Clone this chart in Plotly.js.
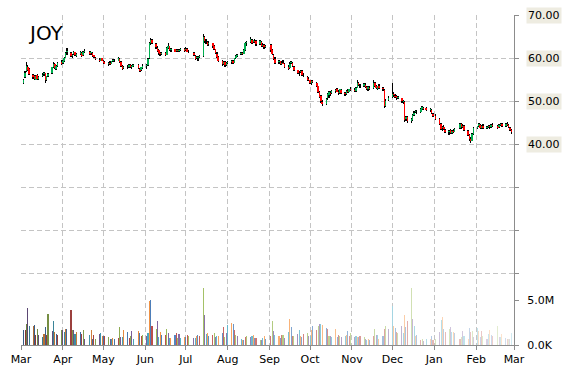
<!DOCTYPE html>
<html><head><meta charset="utf-8">
<script src="https://cdn.plot.ly/plotly-3.0.1.min.js"></script>
<style>html,body{margin:0;padding:0;background:#fff}#chart{width:570px;height:370px}</style>
</head><body><div id="chart"></div>
<script>
const ticker = 'JOY';
const dates = [
'2014-03-03','2014-03-04','2014-03-05','2014-03-06','2014-03-07','2014-03-10','2014-03-11','2014-03-12','2014-03-13','2014-03-14','2014-03-17','2014-03-18','2014-03-19','2014-03-20','2014-03-21','2014-03-24','2014-03-25','2014-03-26','2014-03-27','2014-03-28','2014-03-31',
'2014-04-01','2014-04-02','2014-04-03','2014-04-04','2014-04-07','2014-04-08','2014-04-09','2014-04-10','2014-04-11','2014-04-14','2014-04-15','2014-04-16','2014-04-17','2014-04-21','2014-04-22','2014-04-23','2014-04-24','2014-04-25','2014-04-28','2014-04-29','2014-04-30',
'2014-05-01','2014-05-02','2014-05-05','2014-05-06','2014-05-07','2014-05-08','2014-05-09','2014-05-12','2014-05-13','2014-05-14','2014-05-15','2014-05-16','2014-05-19','2014-05-20','2014-05-21','2014-05-22','2014-05-23','2014-05-27','2014-05-28','2014-05-29','2014-05-30',
'2014-06-02','2014-06-03','2014-06-04','2014-06-05','2014-06-06','2014-06-09','2014-06-10','2014-06-11','2014-06-12','2014-06-13','2014-06-16','2014-06-17','2014-06-18','2014-06-19','2014-06-20','2014-06-23','2014-06-24','2014-06-25','2014-06-26','2014-06-27','2014-06-30',
'2014-07-01','2014-07-02','2014-07-03','2014-07-07','2014-07-08','2014-07-09','2014-07-10','2014-07-11','2014-07-14','2014-07-15','2014-07-16','2014-07-17','2014-07-18','2014-07-21','2014-07-22','2014-07-23','2014-07-24','2014-07-25','2014-07-28','2014-07-29','2014-07-30','2014-07-31',
'2014-08-01','2014-08-04','2014-08-05','2014-08-06','2014-08-07','2014-08-08','2014-08-11','2014-08-12','2014-08-13','2014-08-14','2014-08-15','2014-08-18','2014-08-19','2014-08-20','2014-08-21','2014-08-22','2014-08-25','2014-08-26','2014-08-27','2014-08-28','2014-08-29',
'2014-09-02','2014-09-03','2014-09-04','2014-09-05','2014-09-08','2014-09-09','2014-09-10','2014-09-11','2014-09-12','2014-09-15','2014-09-16','2014-09-17','2014-09-18','2014-09-19','2014-09-22','2014-09-23','2014-09-24','2014-09-25','2014-09-26','2014-09-29','2014-09-30',
'2014-10-01','2014-10-02','2014-10-03','2014-10-06','2014-10-07','2014-10-08','2014-10-09','2014-10-10','2014-10-13','2014-10-14','2014-10-15','2014-10-16','2014-10-17','2014-10-20','2014-10-21','2014-10-22','2014-10-23','2014-10-24','2014-10-27','2014-10-28','2014-10-29','2014-10-30','2014-10-31',
'2014-11-03','2014-11-04','2014-11-05','2014-11-06','2014-11-07','2014-11-10','2014-11-11','2014-11-12','2014-11-13','2014-11-14','2014-11-17','2014-11-18','2014-11-19','2014-11-20','2014-11-21','2014-11-24','2014-11-25','2014-11-26','2014-11-28',
'2014-12-01','2014-12-02','2014-12-03','2014-12-04','2014-12-05','2014-12-08','2014-12-09','2014-12-10','2014-12-11','2014-12-12','2014-12-15','2014-12-16','2014-12-17','2014-12-18','2014-12-19','2014-12-22','2014-12-23','2014-12-24','2014-12-26','2014-12-29','2014-12-30','2014-12-31',
'2015-01-02','2015-01-05','2015-01-06','2015-01-07','2015-01-08','2015-01-09','2015-01-12','2015-01-13','2015-01-14','2015-01-15','2015-01-16','2015-01-20','2015-01-21','2015-01-22','2015-01-23','2015-01-26','2015-01-27','2015-01-28','2015-01-29','2015-01-30',
'2015-02-02','2015-02-03','2015-02-04','2015-02-05','2015-02-06','2015-02-09','2015-02-10','2015-02-11','2015-02-12','2015-02-13','2015-02-17','2015-02-18','2015-02-19','2015-02-20','2015-02-23','2015-02-24','2015-02-25','2015-02-26','2015-02-27'
];
const open = [
54.3,55.6,57.0,58.0,57.4,56.1,55.7,55.0,56.0,55.1,55.7,56.2,56.4,54.9,55.8,56.5,58.0,58.6,57.5,58.2,59.0,
58.8,59.4,60.1,61.3,61.2,60.4,60.9,61.3,60.4,61.0,61.2,60.7,61.4,61.5,61.1,61.2,60.6,60.1,59.6,59.4,59.9,
59.3,59.0,58.6,58.8,58.7,59.3,59.4,59.3,59.8,59.0,58.1,57.6,58.0,57.9,58.3,57.9,58.2,58.3,57.5,57.1,57.7,
58.1,58.4,60.0,63.6,64.2,63.3,62.4,61.8,61.0,60.9,61.1,60.8,62.3,62.7,61.9,62.0,61.6,61.9,61.6,61.9,62.0,
61.8,62.1,61.5,61.2,60.5,59.9,60.0,60.2,60.5,64.8,63.9,63.8,63.2,63.4,62.8,62.0,61.0,60.2,59.3,58.6,59.0,58.4,
58.8,59.0,59.3,58.9,60.0,60.4,60.9,61.1,61.0,61.9,63.4,63.8,64.3,63.7,64.0,63.9,63.3,63.8,62.9,63.0,62.6,
63.0,61.9,60.8,59.7,59.0,59.2,58.7,58.9,58.6,57.9,57.6,58.8,58.9,58.0,57.1,56.4,56.7,57.0,55.9,55.6,55.1,
54.8,54.1,54.7,54.3,53.4,52.1,51.1,49.8,49.4,50.6,51.5,51.8,51.9,52.3,52.7,52.2,51.9,52.6,51.8,51.7,52.4,52.2,52.8,
52.6,52.3,53.1,54.2,53.6,53.5,53.8,53.2,52.9,53.1,53.0,54.2,53.5,52.9,53.5,53.0,52.6,48.9,50.2,
51.0,51.7,51.2,51.1,50.7,50.6,49.8,49.7,45.7,46.2,45.4,45.6,46.8,47.4,47.5,47.5,48.2,48.4,48.3,47.9,47.9,47.0,
46.5,45.8,44.6,43.7,44.0,43.3,42.7,43.2,42.5,43.1,42.9,43.7,44.6,44.0,44.2,43.1,42.1,41.2,40.8,42.4,
43.7,44.2,44.5,43.8,44.3,43.7,43.9,44.2,44.0,44.4,44.1,43.9,44.5,44.6,44.2,44.7,44.4,43.8,43.2
];
const high = [
55.2,56.9,59.1,58.3,57.6,56.3,56.0,56.1,56.2,55.8,56.4,56.8,56.5,55.9,56.6,58.0,59.0,58.8,58.3,59.1,59.5,
59.6,60.2,61.5,62.3,61.4,61.0,61.6,61.5,61.1,61.6,61.3,61.6,62.0,61.6,61.5,61.3,60.8,60.3,59.9,60.1,60.0,
59.5,59.3,59.0,59.2,59.4,59.8,59.7,60.2,60.0,59.2,58.3,58.2,58.4,58.6,58.5,58.3,58.6,58.5,57.7,58.0,58.5,
58.6,59.9,63.8,64.7,64.5,63.6,62.7,62.0,61.5,61.4,61.3,62.6,63.5,62.9,62.3,62.2,62.1,62.2,62.0,62.3,62.4,
62.5,62.3,61.8,61.4,60.7,60.5,60.4,60.6,65.5,65.1,64.4,64.0,63.9,63.6,63.0,62.2,61.3,60.4,59.6,59.3,59.2,59.0,
59.4,59.6,59.5,60.1,60.8,61.0,61.4,61.5,62.0,63.8,64.0,64.8,64.5,64.3,64.5,64.1,64.2,64.0,63.4,63.2,63.1,
63.2,62.1,61.0,60.2,59.6,59.4,59.2,59.5,58.8,58.3,59.0,59.4,59.1,58.2,57.3,56.9,57.3,57.2,56.4,55.9,55.6,
55.0,54.9,55.0,54.5,53.6,52.4,51.3,50.3,50.8,51.9,52.3,52.4,52.6,52.8,53.0,52.5,52.9,52.8,52.2,52.6,52.7,52.9,53.2,
53.0,53.2,54.9,54.5,54.0,54.2,54.1,53.5,53.4,53.5,54.9,54.4,53.8,53.6,53.9,53.3,52.8,50.4,51.2,
54.2,52.2,51.6,51.4,51.2,50.8,50.2,49.9,46.6,46.4,46.0,46.9,47.6,47.9,47.8,48.3,48.8,48.6,48.7,48.3,48.1,47.2,
47.0,46.0,44.9,44.2,44.5,43.6,43.3,43.6,43.2,43.4,43.8,45.0,44.8,44.6,44.4,43.3,42.4,41.6,42.6,44.0,
44.3,44.9,44.7,44.4,44.6,44.1,44.5,44.4,44.6,44.8,44.5,44.6,45.0,44.9,44.8,45.1,44.6,44.0,43.5
];
const low = [
54.0,55.4,56.8,57.0,56.0,55.2,54.9,54.8,54.9,54.8,55.5,55.9,54.2,54.7,55.6,56.3,57.7,57.4,57.2,58.0,58.3,
58.6,59.1,59.9,60.8,60.2,60.1,60.7,60.4,60.2,60.7,60.3,60.5,61.2,60.8,60.7,60.3,60.0,59.5,59.1,59.3,59.2,
58.6,58.5,58.2,58.4,58.5,59.0,59.0,59.2,58.9,57.9,57.2,57.4,57.5,57.7,57.6,57.5,57.9,57.4,56.7,56.9,57.4,
57.5,58.2,59.8,63.0,63.2,62.2,61.3,60.8,60.5,60.6,60.4,60.6,62.0,61.6,61.5,61.3,61.4,61.3,61.4,61.6,61.5,
61.6,61.3,61.1,60.4,59.6,59.7,59.4,59.9,60.3,63.6,63.2,62.7,62.9,62.4,61.8,60.9,60.0,59.1,58.2,58.3,57.9,58.1,
58.5,58.7,58.6,58.8,59.8,60.2,60.6,60.7,60.9,61.7,62.9,63.5,63.3,63.4,63.6,62.9,63.1,62.6,62.5,62.2,62.4,
61.5,60.6,59.5,58.6,58.7,58.4,58.3,58.5,57.7,57.2,57.4,58.5,57.9,56.9,56.2,55.8,56.4,55.7,55.5,54.7,54.6,
53.9,53.8,54.2,53.2,51.9,50.6,49.6,48.8,49.0,50.3,50.8,51.2,51.7,51.9,52.0,51.5,51.7,51.6,51.2,51.5,51.9,52.0,52.3,
52.1,52.1,53.0,53.4,53.1,53.2,53.0,52.5,52.4,52.6,52.9,53.3,52.7,52.5,52.8,52.4,48.4,48.7,49.9,
50.8,51.0,50.6,50.3,50.4,49.6,49.3,45.2,45.3,45.0,44.9,45.4,46.5,47.1,47.0,47.3,48.0,47.9,47.6,47.5,46.9,46.2,
45.6,44.4,43.3,43.1,43.2,42.5,42.2,42.4,42.3,42.5,42.7,43.5,43.6,43.7,43.0,41.9,40.8,40.3,40.6,42.2,
43.4,43.9,43.5,43.6,43.5,43.4,43.7,43.6,43.8,44.0,43.5,43.7,44.2,44.0,44.0,44.3,43.7,43.0,42.4
];
const close = [
54.9,56.6,58.2,57.3,56.3,55.6,55.2,55.9,55.1,55.5,56.1,56.5,54.8,55.7,56.3,57.8,58.6,57.6,58.1,58.9,58.6,
59.4,60.0,61.2,61.6,60.5,60.8,61.4,60.6,60.9,61.3,60.5,61.4,61.7,61.0,61.3,60.5,60.2,59.7,59.4,59.9,59.4,
58.9,58.7,58.8,58.6,59.2,59.5,59.2,59.9,59.1,58.2,57.5,58.0,57.8,58.4,57.9,58.1,58.4,57.6,57.0,57.8,58.2,
58.3,59.7,63.5,64.2,63.4,62.5,61.6,61.1,60.9,61.2,60.7,62.4,62.8,61.8,62.1,61.5,61.9,61.6,61.8,62.1,61.7,
62.2,61.5,61.3,60.6,59.8,60.3,60.1,60.4,65.0,63.9,64.0,63.0,63.6,62.7,62.0,61.1,60.3,59.4,58.5,59.1,58.3,58.8,
59.1,59.4,58.9,59.9,60.5,60.8,61.2,60.9,61.8,63.5,63.7,64.4,63.6,64.1,63.8,63.2,63.9,62.8,63.1,62.5,62.9,
61.8,60.9,59.8,58.9,59.3,58.6,58.9,58.7,58.0,57.5,58.7,59.0,58.1,57.2,56.5,56.6,57.0,56.0,55.7,55.0,54.9,
54.2,54.6,54.4,53.5,52.2,51.0,49.9,49.3,50.5,51.6,52.0,51.7,52.4,52.6,52.2,51.8,52.7,51.9,51.6,52.4,52.1,52.7,52.5,
52.4,53.0,54.3,53.7,53.4,53.9,53.3,52.8,53.2,52.9,54.3,53.6,53.0,53.4,53.1,52.7,48.8,50.1,50.8,
51.6,51.3,51.0,50.6,50.9,49.9,50.0,45.6,46.3,45.3,45.7,46.7,47.3,47.6,47.4,48.1,48.5,48.2,47.8,48.0,47.1,46.4,
45.9,44.7,43.6,43.9,43.4,42.8,43.1,42.6,43.0,42.8,43.6,44.7,43.9,44.3,43.2,42.2,41.1,40.7,42.3,43.8,
44.1,44.6,43.7,44.2,43.8,43.9,44.3,43.9,44.4,44.2,43.8,44.4,44.6,44.3,44.6,44.5,43.9,43.3,42.7
];
// volume in millions of shares
const volume = [
1.72,1.72,2.35,4.14,2.16,2.09,2.28,1.16,1.79,1.16,0.90,1.27,2.01,1.16,3.51,1.60,2.72,1.42,1.27,1.16,1.72,
1.72,1.42,1.79,1.79,3.95,1.64,1.64,1.27,1.42,1.42,1.27,1.72,0.67,1.08,1.72,0.67,1.16,0.67,1.27,1.34,0.97,
0.97,0.97,0.90,0.67,0.67,0.78,0.67,0.82,2.01,0.90,0.90,1.64,1.42,0.78,0.97,1.53,0.67,1.53,1.34,1.04,1.16,
0.97,1.34,4.96,5.07,2.09,1.79,2.65,0.86,1.42,1.08,1.08,1.79,1.34,0.78,0.78,1.16,1.34,0.78,1.27,0.75,0.90,
0.90,1.16,1.04,0.78,0.78,0.97,1.16,1.04,6.42,3.39,1.27,1.34,1.04,1.16,1.34,0.90,1.04,1.04,1.34,2.01,0.90,1.34,
2.28,2.46,2.39,1.72,1.16,1.04,0.67,0.52,0.60,0.90,1.04,0.90,1.04,1.16,0.82,0.82,0.60,0.60,0.82,1.04,0.67,
1.04,2.72,1.53,1.16,1.04,0.82,1.16,1.16,0.82,1.42,2.91,2.01,1.04,1.04,1.27,1.72,1.04,0.90,1.27,1.34,1.04,
1.04,1.72,2.16,1.72,2.09,2.39,2.31,2.28,1.90,1.79,1.04,1.04,0.90,1.79,0.90,1.16,1.04,0.90,1.04,1.16,1.53,0.97,1.34,
0.90,1.04,0.90,0.90,1.04,0.90,0.67,0.60,0.67,0.52,1.04,1.79,1.16,1.16,0.67,0.97,1.79,2.16,1.79,
4.33,2.09,1.90,1.42,1.34,2.16,1.34,3.39,2.01,2.65,6.42,2.91,2.09,1.04,1.16,0.60,0.67,0.41,0.67,0.67,1.04,0.52,
0.67,1.42,2.84,3.13,1.79,1.42,1.79,2.01,1.42,1.42,1.34,0.67,0.90,1.53,1.04,0.67,1.90,1.42,1.53,0.90,
1.90,1.53,0.90,1.53,1.04,0.67,1.27,1.64,1.16,1.04,2.16,0.90,0.90,1.27,0.78,0.67,0.67,0.67,1.34
];
const monthTickStart = '2014-03-01';
const xRange = ['2014-03-01', '2015-03-01'];
const priceTicks = [10, 20, 30, 40, 50, 60, 70];
const priceLabels = ['', '', '', '40.00', '50.00', '60.00', '70.00'];
const volTicks = [0, 5];
const volLabels = ['0.0K', '5.0M'];

// ---------- styling ----------
const DAY = 86400000;
const UP = '#00B050', DOWN = '#FF0000';
const palette = ['#4F81BD', '#C0504D', '#9BBB59', '#8064A2', '#4BACC6', '#F79646'];
function shade(hex, f) {
  const n = parseInt(hex.slice(1), 16);
  let r = n >> 16, g = (n >> 8) & 255, b = n & 255;
  if (f < 0) { r *= 1 + f; g *= 1 + f; b *= 1 + f; }
  else { r += (255 - r) * f; g += (255 - g) * f; b += (255 - b) * f; }
  return 'rgb(' + Math.round(r) + ',' + Math.round(g) + ',' + Math.round(b) + ')';
}
const N = dates.length;
const volColors = volume.map((v, i) => shade(palette[i % 6], -0.3 + 1.05 * i / (N - 1)));
const bodyBase = open.map((o, i) => Math.min(o, close[i]));
const bodyLen = open.map((o, i) => Math.max(Math.abs(close[i] - o), 0.15));
const bodyColor = open.map((o, i) => close[i] >= o ? UP : DOWN);
const wickLen = high.map((h, i) => h - low[i]);

const traces = [
  { type: 'bar', x: dates, y: volume, yaxis: 'y2', width: 0.8 * DAY,
    marker: { color: volColors, line: { width: 0 } }, hoverinfo: 'skip' },
  { type: 'bar', x: dates, base: low, y: wickLen, yaxis: 'y', width: 1.0 * DAY,
    marker: { color: '#000000', line: { width: 0 } }, hoverinfo: 'skip' },
  { type: 'bar', x: dates, base: bodyBase, y: bodyLen, yaxis: 'y', width: 1.1 * DAY,
    marker: { color: bodyColor, line: { width: 0 } }, hoverinfo: 'skip' }
];

const gridStyle = { showgrid: true, gridcolor: '#C4C4C4', gridwidth: 1, griddash: '5px,3px' };
const annotations = priceTicks.map((v, i) => ({
  x: 1, xref: 'paper', xanchor: 'left', xshift: 12, y: v, yref: 'y', yanchor: 'middle',
  text: priceLabels[i], showarrow: false, bgcolor: '#EEECE1',
  borderpad: 1, font: { family: 'DejaVu Sans', size: 11, color: '#000' }
})).filter(a => a.text);
annotations.push({
  x: 0, xref: 'paper', xanchor: 'left', xshift: 5, y: 1, yref: 'paper', yanchor: 'top', yshift: -4,
  text: ticker, showarrow: false, font: { family: 'DejaVu Sans', size: 20, color: '#000' }
});

const layout = {
  width: 570, height: 370,
  margin: { l: 21, r: 56, t: 15, b: 25, pad: 0 },
  paper_bgcolor: '#ffffff', plot_bgcolor: '#ffffff',
  showlegend: false, barmode: 'overlay', bargap: 0, hovermode: false,
  font: { family: 'DejaVu Sans', size: 11, color: '#000' },
  xaxis: Object.assign({
    type: 'date', range: xRange, tick0: monthTickStart, dtick: 'M1', tickformat: '%b',
    showline: true, linecolor: '#8C8C8C', linewidth: 1, ticks: 'outside', ticklen: 4,
    tickcolor: '#8C8C8C', zeroline: false, fixedrange: true,
    tickfont: { family: 'DejaVu Sans', size: 11, color: '#000' }
  }, gridStyle),
  yaxis: Object.assign({
    side: 'right', range: [-6.744, 70], tickvals: priceTicks, showticklabels: false,
    showline: true, linecolor: '#8C8C8C', linewidth: 1, ticks: 'outside', ticklen: 4,
    tickcolor: '#8C8C8C', zeroline: false, fixedrange: true
  }, gridStyle),
  yaxis2: {
    overlaying: 'y', side: 'right', range: [0, 37.0], tickvals: volTicks, ticktext: volLabels,
    showgrid: false, zeroline: false, ticks: 'outside', ticklen: 4, tickcolor: '#8C8C8C',
    showline: false, ticklabelstandoff: 6, fixedrange: true,
    tickfont: { family: 'DejaVu Sans', size: 11, color: '#000' }
  },
  annotations: annotations
};

Plotly.newPlot('chart', traces, layout, { staticPlot: true, displayModeBar: false });
</script>
</body></html>
